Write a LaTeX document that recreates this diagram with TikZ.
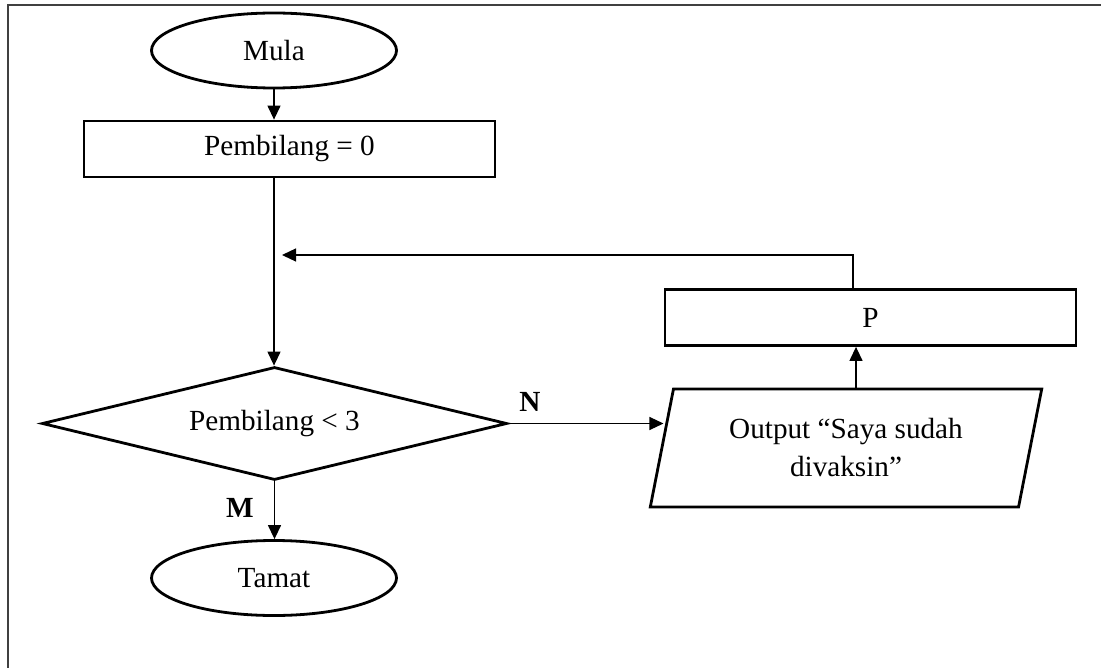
\documentclass[tikz,border=0pt]{standalone}
\usepackage{fontspec}
\setmainfont{Liberation Serif}
\usetikzlibrary{shapes.geometric,arrows.meta,calc}
\begin{document}
\begin{tikzpicture}[x=0.5pt,y=-0.5pt,
  font=\fontsize{14.6}{19}\selectfont,
  shapeline/.style={draw=black,line width=1.4pt,inner sep=0pt},
  term/.style={shapeline,ellipse,minimum width=122.5pt,minimum height=37.5pt},
  procbox/.style={shapeline,rectangle,minimum height=28pt},
  decbox/.style={shapeline,diamond,aspect=4.12,minimum width=232.5pt,minimum height=56.5pt},
  iobox/.style={shapeline,trapezium,trapezium left angle=75,trapezium right angle=105,
    trapezium stretches=true,minimum width=196pt,minimum height=59pt,align=center},
  conn/.style={line width=0.65pt,-{Triangle[length=7pt,width=6.5pt]}},
  lbl/.style={font=\fontsize{14.6}{19}\selectfont\bfseries,inner sep=0pt},
  frameline/.style={line width=1pt,draw=black!75}]
\useasboundingbox (0,0) rectangle (1101,668);
\draw[frameline] (8,668) -- (8,5) -- (1101,5);

\node[term] (mula) at (274,50.5) {Mula};
\node[procbox,minimum width=205.5pt] (init) at (289.5,149) {Pembilang = 0};
\node[decbox] (dec) at (274.5,423.5) {Pembilang < 3\hspace{8pt}};
\node[term] (tamat) at (274,578) {Tamat};
\node[iobox] (out) at (846,448) {Output “Saya sudah\\divaksin”};
\node[procbox,minimum width=205.5pt] (p) at (870.5,317.5) {P};

\coordinate (fb) at (282,255);
\coordinate (trunk) at (274,177);

\draw[conn] (mula.south -| trunk) -- (init.north -| trunk);
\draw[conn] (init.south -| trunk) -- (dec.north -| trunk);
\draw[conn] (dec.south) -- (tamat.north -| dec.south);
\draw[conn] (dec.east) -- ($(dec.east -| out.west)+(3,0)$);
\draw[conn] (out.north -| 856,0) -- (p.south -| 856,0);
\draw[conn] (p.north -| 853,0) |- (fb);

\node[lbl] (nlbl) at (530,402) {N};
\node[lbl] (mlbl) at (240,508) {M};
\end{tikzpicture}
\end{document}
